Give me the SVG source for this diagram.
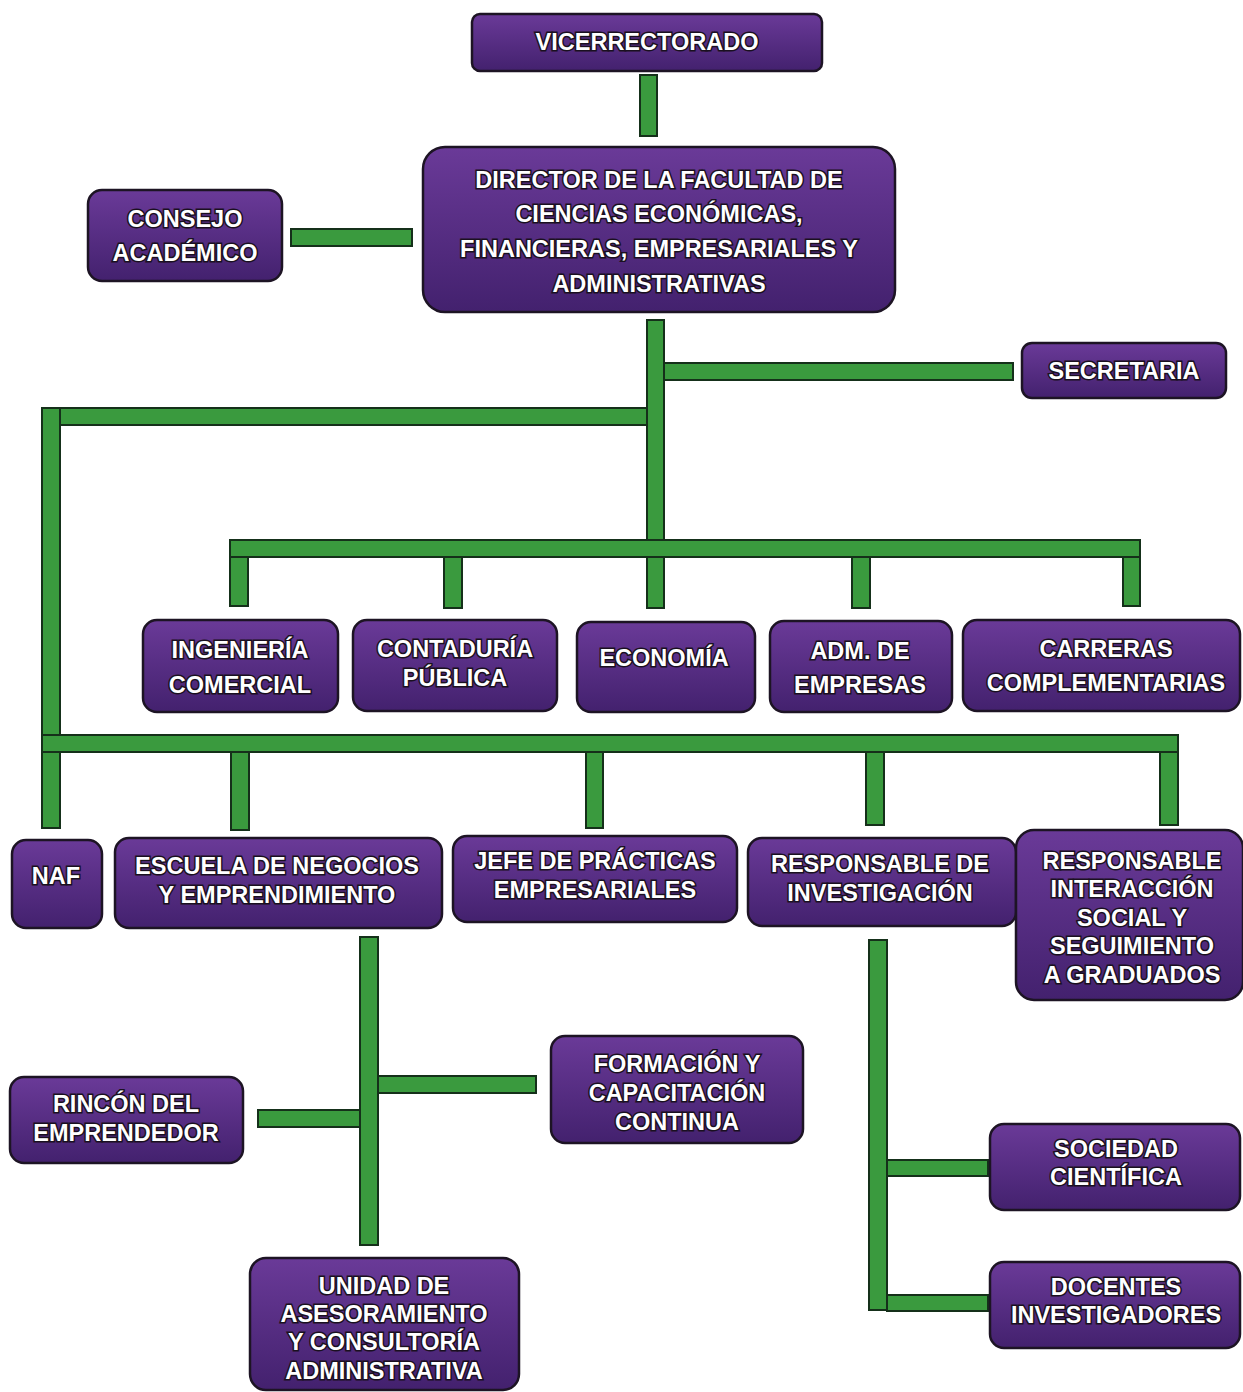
<svg xmlns="http://www.w3.org/2000/svg" width="1243" height="1392" viewBox="0 0 1243 1392">
<defs>
<linearGradient id="pg" x1="0" y1="0" x2="0" y2="1">
<stop offset="0" stop-color="#6a3a98"/>
<stop offset="1" stop-color="#43216e"/>
</linearGradient>
</defs>
<style>
.box{fill:url(#pg);stroke:#1d1424;stroke-width:2.5}
.bar{fill:#3a9a3e;stroke:#15301a;stroke-width:2}
text{font-family:"Liberation Sans",Arial,sans-serif;font-weight:bold;font-size:23.5px;fill:#ffffff;stroke:#1a1020;stroke-width:3;paint-order:stroke;text-anchor:middle;dominant-baseline:central}
</style>
<rect width="1243" height="1392" fill="#ffffff"/>
<g id="connectors">
<rect class="bar" x="640" y="75" width="17" height="61"/>
<rect class="bar" x="291" y="229" width="121" height="17"/>
<rect class="bar" x="647" y="320" width="17" height="288"/>
<rect class="bar" x="664" y="363" width="349" height="17"/>
<rect class="bar" x="42" y="408" width="605" height="17"/>
<rect class="bar" x="42" y="408" width="18" height="420"/>
<rect class="bar" x="230" y="540" width="910" height="17"/>
<rect class="bar" x="230" y="557" width="18" height="49"/>
<rect class="bar" x="444" y="557" width="18" height="51"/>
<rect class="bar" x="852" y="557" width="18" height="51"/>
<rect class="bar" x="1123" y="557" width="17" height="49"/>
<rect class="bar" x="42" y="735" width="1136" height="17"/>
<rect class="bar" x="231" y="752" width="18" height="78"/>
<rect class="bar" x="586" y="752" width="17" height="76"/>
<rect class="bar" x="866" y="752" width="18" height="73"/>
<rect class="bar" x="1160" y="752" width="18" height="73"/>
<rect class="bar" x="360" y="937" width="18" height="308"/>
<rect class="bar" x="378" y="1076" width="158" height="17"/>
<rect class="bar" x="258" y="1110" width="102" height="17"/>
<rect class="bar" x="869" y="940" width="18" height="370"/>
<rect class="bar" x="887" y="1160" width="101" height="16"/>
<rect class="bar" x="887" y="1295" width="101" height="16"/>
</g>
<g id="vicerrectorado"><rect class="box" x="472" y="14" width="350" height="57" rx="8"/><text x="647" y="42">VICERRECTORADO</text></g>
<g id="director"><rect class="box" x="423" y="147" width="472" height="165" rx="22"/>
<text x="659" y="180">DIRECTOR DE LA FACULTAD DE</text>
<text x="659" y="214">CIENCIAS ECONÓMICAS,</text>
<text x="659" y="249">FINANCIERAS, EMPRESARIALES Y</text>
<text x="659" y="284">ADMINISTRATIVAS</text></g>
<g id="consejo"><rect class="box" x="88" y="190" width="194" height="91" rx="14"/>
<text x="185" y="219">CONSEJO</text><text x="185" y="253">ACADÉMICO</text></g>
<g id="secretaria"><rect class="box" x="1022" y="343" width="204" height="55" rx="10"/><text x="1124" y="371">SECRETARIA</text></g>
<g id="ingenieria"><rect class="box" x="143" y="620" width="195" height="92" rx="14"/>
<text x="240" y="650">INGENIERÍA</text><text x="240" y="685">COMERCIAL</text></g>
<g id="contaduria"><rect class="box" x="353" y="620" width="204" height="91" rx="14"/>
<text x="455" y="649">CONTADURÍA</text><text x="455" y="678">PÚBLICA</text></g>
<g id="economia"><rect class="box" x="577" y="622" width="178" height="90" rx="14"/>
<text x="664" y="658">ECONOMÍA</text></g>
<g id="adm"><rect class="box" x="770" y="621" width="182" height="91" rx="14"/>
<text x="860" y="651">ADM. DE</text><text x="860" y="685">EMPRESAS</text></g>
<g id="carreras"><rect class="box" x="963" y="620" width="277" height="91" rx="14"/>
<text x="1106" y="649">CARRERAS</text><text x="1106" y="683">COMPLEMENTARIAS</text></g>
<g id="naf"><rect class="box" x="12" y="840" width="90" height="88" rx="14"/><text x="56" y="876">NAF</text></g>
<g id="escuela"><rect class="box" x="115" y="838" width="327" height="90" rx="14"/>
<text x="277" y="866">ESCUELA DE NEGOCIOS</text><text x="277" y="895">Y EMPRENDIMIENTO</text></g>
<g id="jefe"><rect class="box" x="453" y="836" width="284" height="86" rx="14"/>
<text x="595" y="861">JEFE DE PRÁCTICAS</text><text x="595" y="890">EMPRESARIALES</text></g>
<g id="investigacion"><rect class="box" x="748" y="838" width="268" height="88" rx="14"/>
<text x="880" y="864">RESPONSABLE DE</text><text x="880" y="893">INVESTIGACIÓN</text></g>
<g id="interaccion"><rect class="box" x="1016" y="830" width="227" height="170" rx="18"/>
<text x="1132" y="861">RESPONSABLE</text><text x="1132" y="889">INTERACCIÓN</text><text x="1132" y="918">SOCIAL Y</text><text x="1132" y="946">SEGUIMIENTO</text><text x="1132" y="975">A GRADUADOS</text></g>
<g id="formacion"><rect class="box" x="551" y="1036" width="252" height="107" rx="14"/>
<text x="677" y="1064">FORMACIÓN Y</text><text x="677" y="1093">CAPACITACIÓN</text><text x="677" y="1122">CONTINUA</text></g>
<g id="rincon"><rect class="box" x="10" y="1077" width="233" height="86" rx="14"/>
<text x="126" y="1104">RINCÓN DEL</text><text x="126" y="1133">EMPRENDEDOR</text></g>
<g id="unidad"><rect class="box" x="250" y="1258" width="269" height="132" rx="16"/>
<text x="384" y="1286">UNIDAD DE</text><text x="384" y="1314">ASESORAMIENTO</text><text x="384" y="1342">Y CONSULTORÍA</text><text x="384" y="1371">ADMINISTRATIVA</text></g>
<g id="sociedad"><rect class="box" x="990" y="1124" width="250" height="86" rx="14"/>
<text x="1116" y="1149">SOCIEDAD</text><text x="1116" y="1177">CIENTÍFICA</text></g>
<g id="docentes"><rect class="box" x="990" y="1262" width="250" height="86" rx="14"/>
<text x="1116" y="1287">DOCENTES</text><text x="1116" y="1315">INVESTIGADORES</text></g>
</svg>
